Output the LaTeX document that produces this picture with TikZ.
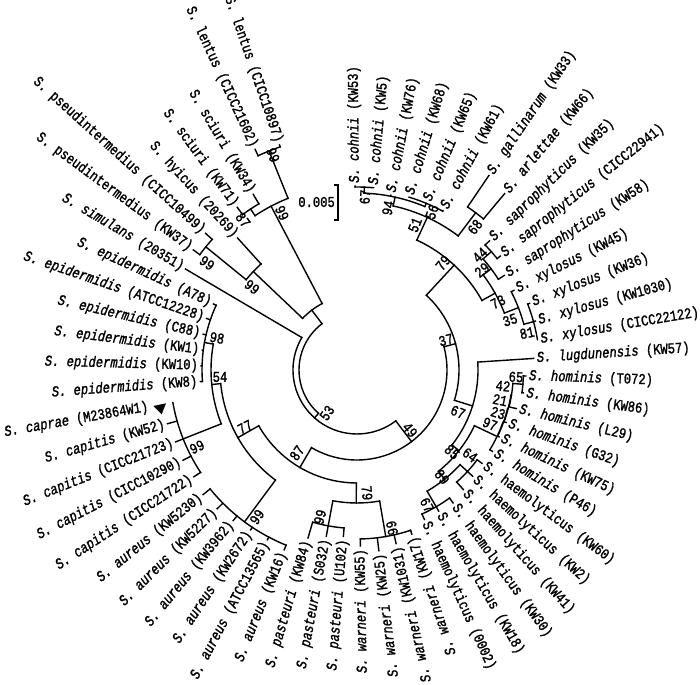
\documentclass[tikz,border=0pt]{standalone}
\usepackage{fontspec}
\usepackage{graphicx}
\setmainfont{Liberation Mono}[FakeBold=1.5]
\newcommand\lab{\fontsize{15}{16}\selectfont}
\newcommand\Si[2]{\scalebox{0.81}[1]{\textit{S. #1} (#2)}}
\newcommand\Su[2]{\scalebox{0.81}[1]{S. #1 (#2)}}
\newcommand\bv[1]{\scalebox{0.81}[1]{#1}}
\newcommand\T[1]{\csname T#1\endcsname}
\tikzset{br/.style={line width=1.4pt, line cap=rect},
  lf/.style={inner sep=0pt, font=\lab},
  bs/.style={inner sep=0pt, font=\lab}}
% node: name, radius, angle a, angle b, parent radius
\newcommand\NODE[5]{%
  \pgfmathsetmacro\tmpm{(#3+#4)/2}%
  \global\expandafter\let\csname T#1\endcsname\tmpm
  \draw[br] ({#3}:#2) arc[start angle={#3}, end angle={#4}, radius=#2];%
  \draw[br] ({\tmpm}:#5) -- ({\tmpm}:#2);%
}
% leaf: id, angle, parent r, tip r, text
\newcommand\LR[5]{%
  \draw[br] ({#2}:#3) -- ({#2}:#4);%
  \node[lf, anchor=west, rotate={#2}] (L#1) at ({#2}:{#4+3}) {#5};}
\newcommand\LL[5]{%
  \draw[br] ({#2}:#3) -- ({#2}:#4);%
  \node[lf, anchor=east, rotate={#2+180}] (L#1) at ({#2}:{#4+3}) {#5};}
\begin{document}
\begin{tikzpicture}[x=1pt,y=1pt]
\useasboundingbox (0,0) rectangle (700,684);
\begin{scope}[shift={(357,314)}]
% ---- cohnii / gallinarum
\NODE{ca}{183}{90.6}{84.81}{177}
\NODE{cc}{180.5}{73.23}{61.65}{177}
\NODE{cb}{177}{\T{ca}}{\T{cc}}{168}
\NODE{ga}{197}{55.86}{50.07}{168}
\NODE{cg}{168}{\T{cb}}{\T{ga}}{143}
\LR{1}{90.6}{183}{184}{\Si{cohnii}{KW53}}
\LR{2}{84.81}{183}{183}{\Si{cohnii}{KW5}}
\LR{3}{79.02}{177}{178}{\Si{cohnii}{KW76}}
\LR{4}{73.23}{180.5}{180.5}{\Si{cohnii}{KW68}}
\LR{5}{67.44}{180.5}{180.5}{\Si{cohnii}{KW65}}
\LR{6}{61.65}{180.5}{181}{\Si{cohnii}{KW61}}
\LR{7}{55.86}{197}{235}{\Si{gallinarum}{KW33}}
\LR{8}{50.07}{197}{230}{\Si{arlettae}{KW66}}
% ---- saprophyticus / xylosus
\NODE{sa}{179}{44.28}{38.49}{168}
\NODE{sb}{168}{\T{sa}}{32.70}{158}
\NODE{xa}{183}{21.12}{9.54}{173}
\NODE{xb}{173}{26.91}{\T{xa}}{158}
\NODE{sx}{158}{\T{sb}}{\T{xb}}{143}
\LR{9}{44.28}{179}{185}{\Si{saprophyticus}{KW35}}
\LR{10}{38.49}{179}{183}{\Si{saprophyticus}{CICC22941}}
\LR{11}{32.70}{168}{175}{\Si{saprophyticus}{KW58}}
\LR{12}{26.91}{173}{176}{\Si{xylosus}{KW45}}
\LR{13}{21.12}{183}{185}{\Si{xylosus}{KW36}}
\LR{14}{15.33}{183}{185}{\Si{xylosus}{KW1030}}
\LR{15}{9.54}{183}{183}{\Si{xylosus}{CICC22122}}
\NODE{nsf}{143}{\T{cg}}{\T{sx}}{102}
% ---- hominis / haemolyticus
\NODE{ha}{166.5}{-2.04}{-7.83}{156.5}
\NODE{hb}{156.5}{\T{ha}}{-13.62}{156}
\NODE{hc}{156}{\T{hb}}{-19.41}{155.5}
\NODE{hd}{155.5}{\T{hc}}{-25.20}{155}
\NODE{he}{155}{\T{hd}}{-30.99}{130}
\NODE{ma}{150}{-36.78}{-48.36}{140}
\NODE{mc}{158}{-54.15}{-65.73}{140}
\NODE{mb}{140}{\T{ma}}{\T{mc}}{130}
\NODE{hm}{130}{\T{he}}{\T{mb}}{121}
\NODE{nsx}{121}{3.75}{\T{hm}}{102}
\LR{16}{3.75}{121}{177}{\Si{lugdunensis}{KW57}}
\LR{17}{-2.04}{166.5}{169}{\Si{hominis}{T072}}
\LR{18}{-7.83}{166.5}{168}{\Si{hominis}{KW86}}
\LR{19}{-13.62}{156.5}{164}{\Si{hominis}{L29}}
\LR{20}{-19.41}{156}{158}{\Si{hominis}{G32}}
\LR{21}{-25.20}{155.5}{157}{\Si{hominis}{KW75}}
\LR{22}{-30.99}{155}{158}{\Si{hominis}{P46}}
\LR{23}{-36.78}{150}{156}{\Su{haemolyticus}{KW60}}
\LR{24}{-42.57}{150}{157}{\Su{haemolyticus}{KW2}}
\LR{25}{-48.36}{150}{160}{\Su{haemolyticus}{KW41}}
\LR{26}{-54.15}{158}{164}{\Su{haemolyticus}{KW30}}
\LR{27}{-59.94}{158}{163}{\Su{haemolyticus}{KW18}}
\LR{28}{-65.73}{158}{164}{\Su{haemolyticus}{0002}}
\NODE{nt}{102}{\T{nsf}}{\T{nsx}}{90}
% ---- warneri / pasteuri
\NODE{wa}{169}{-71.52}{-88.89}{133}
\NODE{pa}{158.5}{-94.68}{-106.26}{133}
\NODE{wp}{133}{\T{wa}}{\T{pa}}{113}
\LL{29}{-71.52}{169}{173}{\Si{warneri}{KW17}}
\LL{30}{-77.31}{169}{178}{\Si{warneri}{KW1031}}
\LL{31}{-83.10}{169}{182}{\Si{warneri}{KW25}}
\LL{32}{-88.89}{169}{176}{\Si{warneri}{KW55}}
\LL{33}{-94.68}{158.5}{167}{\Si{pasteuri}{U102}}
\LL{34}{-100.47}{158.5}{169}{\Si{pasteuri}{S032}}
\LL{35}{-106.26}{158.5}{175}{\Si{pasteuri}{KW84}}
% ---- aureus
\NODE{au}{189}{-112.05}{-141.00}{137}
\LL{36}{-112.05}{189}{194}{\Si{aureus}{KW16}}
\LL{37}{-117.84}{189}{192}{\Si{aureus}{ATCC13565}}
\LL{38}{-123.63}{189}{192}{\Si{aureus}{KW2672}}
\LL{39}{-129.42}{189}{195}{\Si{aureus}{KW3962}}
\LL{40}{-135.21}{189}{197}{\Si{aureus}{KW5227}}
\LL{41}{-141.00}{189}{198}{\Si{aureus}{KW5230}}
% ---- capitis / caprae
\NODE{cp}{187}{-146.79}{-169.95}{146}
\LL{42}{-146.79}{187}{195}{\Si{capitis}{CICC21722}}
\LL{43}{-152.58}{187}{196}{\Si{capitis}{CICC10290}}
\LL{44}{-158.37}{187}{195}{\Si{capitis}{CICC21723}}
\LL{45}{-164.16}{187}{197}{\Si{capitis}{KW52}}
\node[lf, anchor=east, rotate=10.05] (L46) at (-169.95:212) {\Si{caprae}{M23864W1}};
% ---- epidermidis
\NODE{ep}{155}{-175.74}{-204.69}{146}
\LL{47}{-175.74}{155}{157}{\Si{epidermidis}{KW8}}
\LL{48}{-181.53}{155}{156}{\Si{epidermidis}{KW10}}
\LL{49}{-187.32}{155}{156}{\Si{epidermidis}{KW1}}
\LL{50}{-193.11}{155}{158}{\Si{epidermidis}{C88}}
\LL{51}{-198.90}{155}{159}{\Si{epidermidis}{ATCC12228}}
\LL{52}{-204.69}{155}{158}{\Si{epidermidis}{A78}}
\NODE{nff}{146}{\T{cp}}{\T{ep}}{137}
\NODE{nss}{137}{\T{au}}{\T{nff}}{113}
\NODE{nes}{113}{\T{nss}}{\T{wp}}{90}
\NODE{nfn}{90}{\T{nes}}{\T{nt}}{64}
\NODE{nft}{64}{-210.48}{\T{nfn}}{58}
\LL{53}{-210.48}{64}{199}{\Si{simulans}{20351}}
% ---- pseudintermedius / hyicus / sciuri / lentus
\NODE{ps}{195}{-216.27}{-222.06}{143}
\NODE{nb}{143}{\T{ps}}{-227.85}{75}
\NODE{si}{193}{-233.64}{-239.43}{185}
\NODE{le}{236}{-245.22}{-251.01}{185}
\NODE{na}{185}{\T{si}}{\T{le}}{75}
\NODE{nc}{75}{\T{nb}}{\T{na}}{58}
\LL{54}{-216.27}{195}{203}{\Su{pseudintermedius}{KW37}}
\LL{55}{-222.06}{195}{204}{\Su{pseudintermedius}{CICC10499}}
\LL{56}{-227.85}{143}{178}{\Su{hyicus}{20269}}
\LL{57}{-233.64}{193}{202}{\Su{sciuri}{KW71}}
\LL{58}{-239.43}{193}{204}{\Su{sciuri}{KW34}}
\LL{59}{-245.22}{236}{243}{\Su{lentus}{CICC21602}}
\LL{60}{-251.01}{236}{238}{\Su{lentus}{CICC10897}}
% root
\draw[br] ({\T{nc}}:58) arc[start angle={\T{nc}}, end angle={\T{nft}}, radius=58];
\end{scope}
% caprae marker
\fill (153.3,278) -- (166,280.7) -- (161.7,269.7) -- cycle;
% bootstrap values
\node[bs, rotate=-68.7] (b1) at (273,529) {\bv{99}};
\node[bs, rotate=-64.5] (b2) at (282,471) {\bv{99}};
\node[bs, rotate=-52.8] (b3) at (243,464) {\bv{87}};
\node[bs, rotate=-35.5] (b4) at (207,421) {\bv{99}};
\node[bs, rotate=-38.3] (b5) at (252,397) {\bv{99}};
\node[bs, rotate=-10] (b6) at (217,346) {\bv{98}};
\node[bs, rotate=0] (b7) at (220,307) {\bv{54}};
\node[bs, rotate=26] (b8) at (197,237) {\bv{99}};
\node[bs, rotate=27] (b9) at (245,257) {\bv{77}};
\node[bs, rotate=55] (b10) at (327,271) {\bv{53}};
\node[bs, rotate=55] (b11) at (297,231) {\bv{87}};
\node[bs, rotate=56] (b12) at (257,167) {\bv{99}};
\node[bs, rotate=76] (b13) at (320,167) {\bv{99}};
\node[bs, rotate=-85] (b14) at (367,191) {\bv{79}};
\node[bs, rotate=-78] (b15) at (392,156) {\bv{66}};
\node[bs, rotate=-50] (b16) at (410,254) {\bv{49}};
\node[bs, rotate=15] (b17) at (446,344) {\bv{37}};
\node[bs, rotate=-22] (b18) at (458,272) {\bv{67}};
\node[bs, rotate=51] (b19) at (443,421) {\bv{79}};
\node[bs, rotate=68] (b20) at (415,459) {\bv{51}};
\node[bs, rotate=79] (b21) at (388,476) {\bv{94}};
\node[bs, rotate=70] (b22) at (432,472) {\bv{56}};
\node[bs, rotate=87] (b23) at (365,487) {\bv{67}};
\node[bs, rotate=52] (b24) at (475,457) {\bv{68}};
\node[bs, rotate=43] (b25) at (480,429) {\bv{44}};
\node[bs, rotate=38] (b26) at (482,414) {\bv{29}};
\node[bs, rotate=26] (b27) at (498,382) {\bv{73}};
\node[bs, rotate=18] (b28) at (510,364) {\bv{35}};
\node[bs, rotate=12] (b29) at (527,351) {\bv{81}};
\node[bs, rotate=-3] (b30) at (516,307) {\bv{65}};
\node[bs, rotate=-6] (b31) at (503,298) {\bv{42}};
\node[bs, rotate=-12] (b32) at (500,284) {\bv{21}};
\node[bs, rotate=-17] (b33) at (498,271) {\bv{23}};
\node[bs, rotate=-22] (b34) at (490,260) {\bv{97}};
\node[bs, rotate=-41] (b35) at (452,232) {\bv{85}};
\node[bs, rotate=-36] (b36) at (470,229) {\bv{64}};
\node[bs, rotate=-51] (b37) at (442,207) {\bv{89}};
\node[bs, rotate=-62] (b38) at (427,179) {\bv{67}};
% scale bar
\coordinate (s1) at (334,499);
\coordinate (s2) at (338,499);
\coordinate (s3) at (338,464);
\coordinate (s4) at (334,464);
\draw[line width=1.4pt] (s1) -- (s2) -- (s3) -- (s4);
\node[bs, anchor=east] (scl) at (335,482) {\bv{0.005}};
\end{tikzpicture}
\end{document}
